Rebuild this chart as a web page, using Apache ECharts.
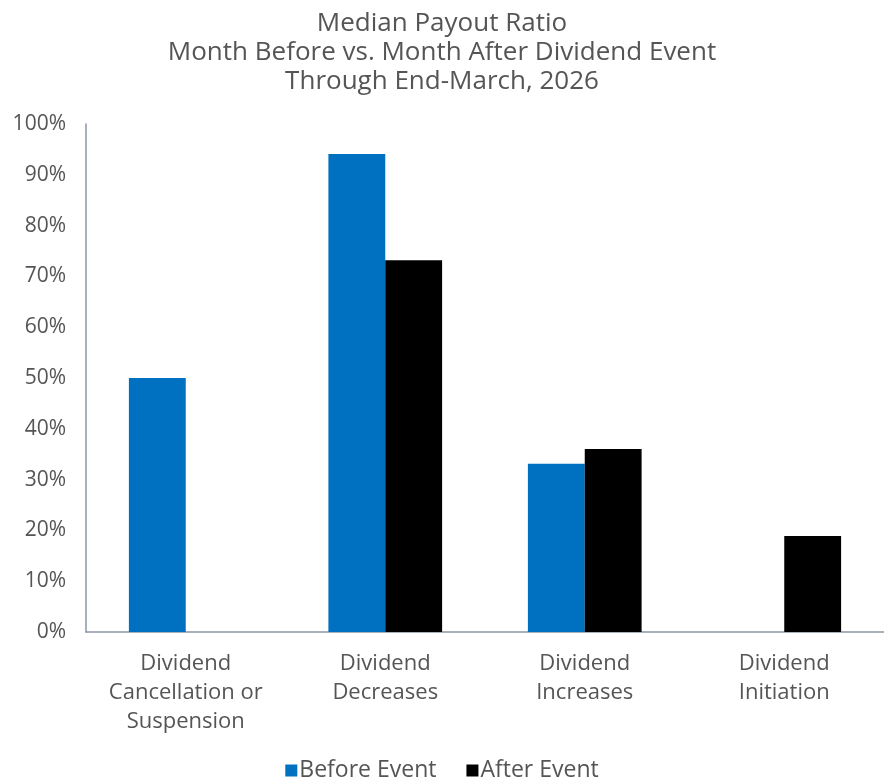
<!DOCTYPE html>
<html><head><meta charset="utf-8">
<script src="https://cdn.jsdelivr.net/npm/echarts@6/dist/echarts.min.js"></script>
<style>html,body{margin:0;padding:0;background:#fff}#c{width:884px;height:783px}</style>
</head><body><div id="c"></div>
<script>
var categories = ['Dividend\nCancellation or\nSuspension', 'Dividend\nDecreases', 'Dividend\nIncreases', 'Dividend\nInitiation'];
var beforeEvent = [50.0, 94.1, 33.1, null];
var afterEvent = [null, 73.2, 36.0, 18.9];
var titleLines = ['Median Payout Ratio', 'Month Before vs. Month After Dividend Event', 'Through End-March, 2026'];
var FONT = 'Open Sans';
var chart = echarts.init(document.getElementById('c'));
chart.setOption({
  animation: false,
  title: { text: titleLines.join('\n'), left: 'center', top: 4,
    textStyle: { fontFamily: FONT, fontSize: 26, fontWeight: 500, color: '#555', lineHeight: 29 } },
  legend: { bottom: -4, left: 'center', itemWidth: 12, itemHeight: 12, itemGap: 30, icon: 'rect',
    textStyle: { fontFamily: FONT, fontSize: 23, color: '#555', padding: [0,0,0,-3] },
    data: ['Before Event', 'After Event'] },
  grid: { left: 86, right: 0, top: 124, bottom: 151 },
  xAxis: { type: 'category', data: categories,
    axisLine: { lineStyle: { color: '#8a96a6', width: 1.5 } }, axisTick: { show: false },
    axisLabel: { interval: 0, fontFamily: FONT, fontSize: 22, color: '#555', lineHeight: 29, margin: 17 } },
  yAxis: { type: 'value', min: 0, max: 100, interval: 10,
    axisLine: { show: true, lineStyle: { color: '#8a96a6', width: 1.5 } }, axisTick: { show: false },
    splitLine: { show: false },
    axisLabel: { fontFamily: FONT, fontSize: 21, color: '#555', margin: 20, formatter: '{value}%' } },
  series: [
    { name: 'Before Event', type: 'bar', data: beforeEvent, itemStyle: { color: '#0070C0' }, barGap: '0%', barCategoryGap: '43%' },
    { name: 'After Event', type: 'bar', data: afterEvent, itemStyle: { color: '#000000' } }
  ]
});
</script></body></html>
